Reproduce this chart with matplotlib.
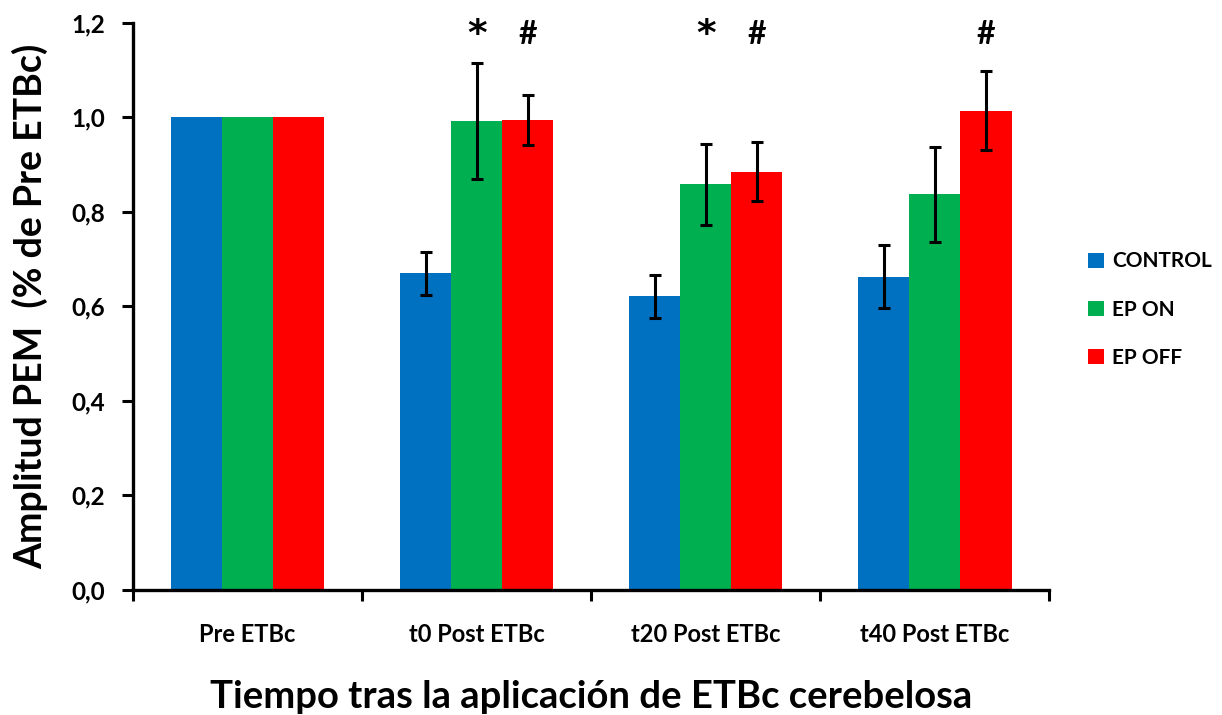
import matplotlib.pyplot as plt
import numpy as np

plt.rcParams['font.family'] = ['Lato', 'DejaVu Sans']
plt.rcParams['font.weight'] = 'bold'

categorias = ['Pre ETBc', 't0 Post ETBc', 't20 Post ETBc', 't40 Post ETBc']
grupos = ['CONTROL', 'EP ON', 'EP OFF']
colores = ['#0070C0', '#00B050', '#FF0000']

control = [1.0, 0.670, 0.621, 0.663]
ep_on = [1.0, 0.993, 0.858, 0.837]
ep_off = [1.0, 0.995, 0.885, 1.014]

err_control = [0, 0.046, 0.046, 0.067]
err_ep_on = [0, 0.123, 0.086, 0.100]
err_ep_off = [0, 0.053, 0.063, 0.084]

# marcas de significación: (categoría, grupo, símbolo)
marcas = [(1, 1, '*'), (1, 2, '#'), (2, 1, '*'), (2, 2, '#'), (3, 2, '#')]

valores = [control, ep_on, ep_off]
errores = [err_control, err_ep_on, err_ep_off]

fig = plt.figure(figsize=(12.22, 7.15), dpi=100)
ax = fig.add_axes([0.1088, 0.175, 0.750, 0.793])

x = np.arange(len(categorias))
ancho = 0.223

for i, (nombre, color) in enumerate(zip(grupos, colores)):
    pos = x + (i - 1) * ancho
    ax.bar(pos, valores[i], ancho, color=color, label=nombre, zorder=2)
    con_error = [j for j in range(len(categorias)) if errores[i][j] > 0]
    ax.errorbar(pos[con_error], np.array(valores[i])[con_error],
                yerr=np.array(errores[i])[con_error], fmt='none',
                ecolor='black', elinewidth=2.2, capsize=4.5, capthick=2.2, zorder=3)

for cat, grp, simbolo in marcas:
    ax.text(x[cat] + (grp - 1) * ancho, 1.175, simbolo, ha='center', va='center',
            fontsize=27 if simbolo == '*' else 23, fontweight='bold',
            family=['DejaVu Sans'] if simbolo == '*' else ['Lato', 'DejaVu Sans'])

ax.set_xlim(-0.5, len(categorias) - 0.5)
ax.set_ylim(0, 1.2)
ax.set_yticks(np.arange(0, 1.21, 0.2))
ax.set_yticklabels([f'{v:.1f}'.replace('.', ',') for v in np.arange(0, 1.21, 0.2)],
                   fontsize=17.5, fontweight='bold')

ax.set_xticks(np.arange(-0.5, len(categorias), 1.0))
ax.set_xticklabels([])
ax.set_xticks(x, minor=True)
ax.set_xticklabels(categorias, minor=True, fontsize=17, fontweight='bold')
ax.tick_params(axis='x', which='minor', length=0, pad=24)
ax.tick_params(axis='x', which='major', direction='out', length=8, width=2.2)
ax.tick_params(axis='y', direction='out', length=8, width=2.2, pad=12)

for lado in ['top', 'right']:
    ax.spines[lado].set_visible(False)
for lado in ['left', 'bottom']:
    ax.spines[lado].set_linewidth(2.4)

ax.set_ylabel('Amplitud PEM  (% de Pre ETBc)', fontsize=27, fontweight='bold', labelpad=17)
ax.set_xlabel('Tiempo tras la aplicación de ETBc cerebelosa', fontsize=27.5,
              fontweight='bold', labelpad=24)

fig.legend(loc='center left', bbox_to_anchor=(0.875, 0.567), frameon=False,
           fontsize=15, handlelength=0.75, handleheight=0.75, handletextpad=0.4,
           labelspacing=1.35)

fig.savefig('out.png', dpi=100)
